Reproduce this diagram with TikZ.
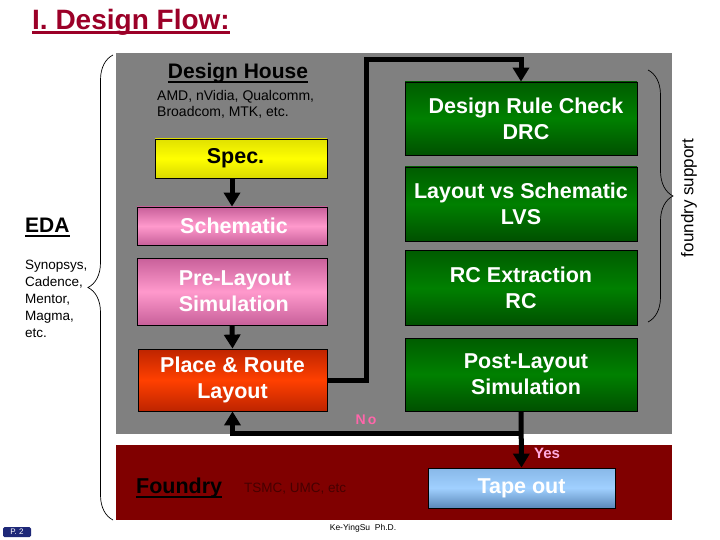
\documentclass[tikz,border=0pt]{standalone}
\usepackage{fontspec}
\setmainfont{Liberation Sans}
\usetikzlibrary{arrows.meta,decorations.pathreplacing,calc}
\definecolor{titlecol}{RGB}{155,0,40}
\definecolor{panelgray}{RGB}{128,128,128}
\definecolor{panelred}{RGB}{128,0,0}
\definecolor{pinkmid}{RGB}{255,153,204}
\definecolor{pinkedge}{RGB}{200,96,154}
\definecolor{greenmid}{RGB}{0,128,0}
\definecolor{greentop}{RGB}{0,92,0}
\definecolor{greenbot}{RGB}{0,80,0}
\definecolor{redmid}{RGB}{255,64,0}
\definecolor{rededge}{RGB}{190,36,0}
\definecolor{bluetop}{RGB}{136,184,232}
\definecolor{bluemid}{RGB}{160,208,255}
\definecolor{bluebot}{RGB}{90,136,184}
\definecolor{nopink}{RGB}{255,102,170}
\definecolor{yespink}{RGB}{255,170,221}
\definecolor{foundrytext}{RGB}{70,0,0}
\definecolor{pagebox}{RGB}{30,40,120}
\begin{document}
\begin{tikzpicture}[x=1pt,y=-1pt,
  boxtext/.style={font=\bfseries\fontsize{21.5}{26}\selectfont, text=white, align=center},
  stepbox/.style={draw=black, line width=0.8pt, inner sep=0pt, boxtext},
  pinkbox/.style={stepbox, top color=pinkedge, bottom color=pinkedge, middle color=pinkmid},
  greenbox/.style={stepbox, top color=greentop, bottom color=greenbot, middle color=greenmid},
  plain/.style={inner sep=0pt, anchor=base west},
  flow/.style={line width=5pt, -{Triangle[width=16pt,length=14pt]}},
  bracestyle/.style={decorate, line width=0.7pt, decoration={brace, amplitude=25pt}}
]
\useasboundingbox (0,0) rectangle (720,540);
\fill[white] (0,0) rectangle (720,540);

% panels
\fill[panelgray] (116,53) rectangle (672,434);
\fill[panelred] (116,445) rectangle (672,520);

% title
\node[plain, text=titlecol, font=\bfseries\fontsize{28}{30}\selectfont] (title) at (32,30) {I. Design Flow:};
\draw[titlecol, line width=2.5pt] ([yshift=-2.5pt]title.base west) -- ([yshift=-2.5pt]title.base east);

% design house
\node[inner sep=0pt, anchor=base, font=\bfseries\fontsize{21}{24}\selectfont] (house) at (238,79) {Design House};
\draw[line width=1.6pt] ([yshift=-3pt]house.base west) -- ([yshift=-3pt]house.base east);
\node[plain, align=left, font=\fontsize{14}{16}\selectfont] (houselist) at (157,117) {AMD, nVidia, Qualcomm,\\Broadcom, MTK, etc.};

% EDA
\node[plain, font=\bfseries\fontsize{21}{24}\selectfont] (eda) at (25,233) {EDA};
\draw[line width=1.6pt] ([yshift=-3pt]eda.base west) -- ([yshift=-3pt]eda.base east);
\node[plain, align=left, font=\fontsize{13.5}{17}\selectfont] (edalist) at (25,337) {Synopsys,\\Cadence,\\Mentor,\\Magma,\\etc.};

% foundry
\node[plain, text=black, font=\bfseries\fontsize{21.5}{24}\selectfont] (foundry) at (136,493) {Foundry};
\draw[line width=1.6pt] ([yshift=-4pt]foundry.base west) -- ([yshift=-4pt]foundry.base east);
\node[plain, text=foundrytext, font=\fontsize{13.5}{16}\selectfont] (tsmc) at (244,492) {TSMC, UMC, etc};

% boxes
\node[stepbox, top color=yellow!88!black, bottom color=yellow!85!black, middle color=yellow, text=black, minimum width=172pt, minimum height=39pt] (spec) at (241,158.5) {\hspace*{-11pt}Spec.};
\node[pinkbox, minimum width=190pt, minimum height=38pt] (sch) at (232,226) {\hspace*{4pt}Schematic};
\node[pinkbox, align=left, minimum width=190pt, minimum height=67pt] (pre) at (232,291.5) {\hspace*{6pt}Pre-Layout\\\hspace*{6pt}Simulation};
\node[stepbox, top color=rededge, bottom color=rededge, middle color=redmid, minimum width=189pt, minimum height=62pt] (pr) at (232.5,380) {Place \& Route\\Layout};
\node[greenbox, minimum width=232pt, minimum height=73pt] (drc) at (521,118.5) {\hspace*{10pt}Design Rule Check\\\hspace*{10pt}DRC};
\node[greenbox, minimum width=232pt, minimum height=74pt] (lvs) at (521,204) {Layout vs Schematic\\LVS};
\node[greenbox, minimum width=232pt, minimum height=75pt] (rc) at (521,288) {RC Extraction\\RC};
\node[greenbox, minimum width=232pt, minimum height=73pt] (post) at (521,374.5) {\hspace*{10pt}Post-Layout\\\hspace*{10pt}Simulation};
\node[stepbox, top color=bluetop, bottom color=bluebot, middle color=bluemid, minimum width=187pt, minimum height=40pt] (tape) at (521.5,488) {Tape out};

% connectors
\coordinate (upleft) at (366,60);
\coordinate (nojoin) at (521,433);
\draw[flow] (spec.south -| sch.north) -- (sch.north);
\draw[flow] (pre.south) -- (pr.north);
\draw[flow] (pr.east) -| (upleft) -| (drc.north);
\draw[flow] (post.south) -- (tape.north);
\draw[flow] (nojoin) -| (pr.south);

\node[font=\bfseries\fontsize{14}{16}\selectfont, text=nopink, inner sep=0pt] (no) at (366,420) {N\,o};
\node[font=\bfseries\fontsize{15}{16}\selectfont, text=yespink, inner sep=0pt] (yes) at (547,453) {Yes};

% braces
\coordinate (lb1) at (113,520);
\coordinate (lb2) at (113,55);
\draw[bracestyle] (lb1) -- (lb2);
\coordinate (rb1) at (648,70);
\coordinate (rb2) at (648,322);
\draw[bracestyle] (rb1) -- (rb2);
\node[rotate=90, font=\fontsize{17}{18}\selectfont, inner sep=0pt] (support) at (689,198) {foundry support};

% footer
\node[fill=pagebox, text=white, rounded corners=1.5pt, minimum width=28pt, minimum height=10pt, inner sep=0pt, font=\fontsize{8}{9}\selectfont] (page) at (17,532) {P. 2};
\node[font=\fontsize{8.5}{9}\selectfont, inner sep=0pt] (author) at (363,528) {Ke-YingSu\ \ Ph.D.};
\end{tikzpicture}
\end{document}
